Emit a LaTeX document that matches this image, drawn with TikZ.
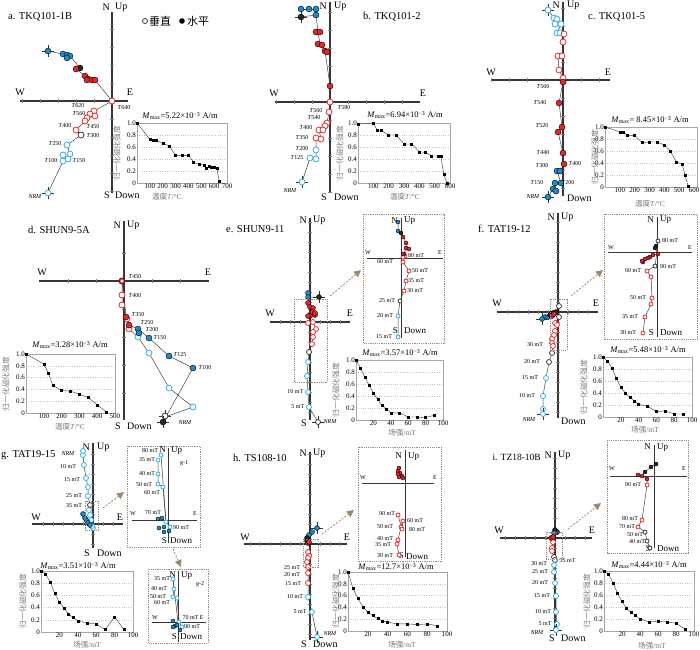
\documentclass[tikz,border=0pt]{standalone}
\usepackage{fontspec}
\setmainfont{Liberation Serif}
\newfontfamily\cjk{Noto Sans CJK SC}
\usetikzlibrary{arrows.meta,plotmarks}
\definecolor{cred}{HTML}{E62628}
\definecolor{cblue}{HTML}{1E8CC8}
\definecolor{oblue}{HTML}{2FAEE6}
\definecolor{axc}{HTML}{363636}
\definecolor{brn}{HTML}{9B8B6E}
\tikzset{
 axl/.style={draw=axc,line width=1.3pt},
 tkl/.style={draw=gray,line width=0.4pt},
 trkl/.style={draw=black!75,line width=0.5pt},
 fR/.style={fill=cred,draw=black,line width=0.4pt},
 fB/.style={fill=cblue,draw=black,line width=0.4pt},
 fK/.style={fill=black!85,draw=black,line width=0.4pt},
 oR/.style={fill=white,draw=cred,line width=0.75pt},
 oB/.style={fill=white,draw=oblue,line width=0.75pt},
 oK/.style={fill=white,draw=black!80,line width=0.75pt},
 slab/.style={font=\fontsize{6}{6}\selectfont,inner sep=0.5pt},
 albl/.style={font=\fontsize{10}{10}\selectfont,inner sep=0pt},
 ilbl/.style={font=\fontsize{9}{9}\selectfont,inner sep=0pt},
 smax/.style={font=\fontsize{6}{6}\selectfont,inner sep=0pt},
 ttl/.style={font=\fontsize{10.5}{11}\selectfont,inner sep=0pt,anchor=west},
 dbox/.style={draw=brn,line width=0.8pt,dash pattern=on 1.2pt off 1pt},
 darr/.style={draw=brn,line width=0.8pt,dash pattern=on 2pt off 1.5pt,-{Triangle[length=7pt,width=7pt,fill=brn]}},
 cgrid/.style={draw=gray!45,line width=0.3pt,dotted},
 cbox/.style={draw=gray!70,line width=0.6pt},
 ctick/.style={font=\fontsize{7}{7}\selectfont,inner sep=1pt},
 cdat/.style={draw=black!80,line width=0.4pt,mark=square*,mark size=1pt,mark options={fill=black,draw=black}},
 ctit/.style={font=\fontsize{8.5}{9}\selectfont,inner sep=0pt},
 cyl/.style={font=\cjk\fontsize{7.8}{8}\selectfont,rotate=90,text=gray,inner sep=0pt},
 cxl/.style={font=\fontsize{7.5}{8}\selectfont,text=gray!90!black,inner sep=0pt},
}
\newcommand\tks[7]{%
 \ifnum#4>0 \foreach \k in {1,...,#4}{\draw[tkl] (#1-\k*#3,#2-1.8) -- (#1-\k*#3,#2+1.8);}\fi
 \ifnum#5>0 \foreach \k in {1,...,#5}{\draw[tkl] (#1+\k*#3,#2-1.8) -- (#1+\k*#3,#2+1.8);}\fi
 \ifnum#6>0 \foreach \k in {1,...,#6}{\draw[tkl] (#1-1.8,#2-\k*#3) -- (#1+1.8,#2-\k*#3);}\fi
 \ifnum#7>0 \foreach \k in {1,...,#7}{\draw[tkl] (#1-1.8,#2+\k*#3) -- (#1+1.8,#2+\k*#3);}\fi}
\newcommand\pts[3]{\foreach \p in {#3}{\path[#1] \p circle (#2pt);}}
\newcommand\pline[2]{\draw[trkl] #1 \foreach \p in {#2}{ -- \p};}
\newcommand\nrm[4]{\draw[black!80,line width=0.5pt] (#1-6,#2) -- (#1+6,#2) (#1,#2-6) -- (#1,#2+6); \path[#3] (#1,#2) circle (#4pt);}
\newcommand\lb[3]{\node[slab] at (#1,#2) {#3};}
\newcommand\Tl[3]{\node[slab] at (#1,#2) {\textit{T}#3};}
\newcommand\chart[7]{%
 \pgfmathsetmacro\ux{(#3-#1)/#5}%
 \pgfmathsetmacro\uy{#4-#2}%
 \begin{scope}[shift={(#1,#4)},x=\ux pt,y=\uy pt]
  \foreach \v in {0.2,0.4,0.6,0.8} \draw[cgrid] (0,\v) -- (#5,\v);
  \draw[cbox] (0,0) rectangle (#5,1);
  \foreach \v/\t in {0/0,0.2/0.2,0.4/0.4,0.6/0.6,0.8/0.8,1/1.0} \node[ctick,anchor=east] at (0,\v) {\t};
  \foreach \v in {#6} \node[ctick,anchor=north] at (\v,0) {\v};
  \draw[cdat] plot coordinates {#7};
 \end{scope}}
\newcommand\mmax[2]{\textit{M}\textsubscript{max}=#1×10\textsuperscript{−3} A/m}
\begin{document}
\begin{tikzpicture}[x=1pt,y=-1pt]
\useasboundingbox (0,0) rectangle (700,649);
% ================= a =================
\draw[axl] (20,101) -- (128,101); \draw[axl] (112,12) -- (112,193);
\tks{112}{101}{18}{5}{0}{4}{5}
\node[albl,anchor=east] at (110,7) {N}; \node[albl,anchor=west] at (115,7) {Up};
\node[albl,anchor=east] at (110,195) {S}; \node[albl,anchor=west] at (115,195) {Down};
\node[albl] at (20,92) {W}; \node[albl] at (130,92) {E};
\node[ttl] at (8,17) {a. TKQ101-1B};
\path[oK] (145,21) circle (2.5pt); \node[font=\cjk\fontsize{11}{11}\selectfont,inner sep=0pt,anchor=west] at (149,21) {垂直};
\path[fill=black] (182,21) circle (2.8pt); \node[font=\cjk\fontsize{11}{11}\selectfont,inner sep=0pt,anchor=west] at (187,21) {水平};
\pline{(48,51)}{(63,54),(67,55),(70,56),(80,68),(76,69),(85,76),(88,79),(92,80),(95,80),(112,101)}
\pline{(112,101)}{(94,111),(90,114),(95,116),(87,118),(85,121),(76,130),(81,135),(67,145),(70,154),(68,159),(63,161),(48,193)}
\pts{oR}{3}{(94,111),(90,114),(95,116),(87,118),(85,121),(76,130),(112,101)}
\pts{oK}{3}{(81,135)}
\pts{oB}{3}{(67,145),(63,155),(70,154),(68,159),(63,161)}
\nrm{48}{193}{oB}{3}
\pts{fB}{3}{(63,54),(67,55),(70,56),(67,58)} \nrm{48}{51}{fB}{3}
\pts{fK}{3}{(80,68)}
\pts{fR}{3}{(76,69),(85,76),(88,79),(92,80),(95,80),(87,80)}
\Tl{124}{108}{640}\Tl{78}{106}{620}\Tl{79}{114}{560}\Tl{93}{127}{450}\Tl{65}{126}{400}\Tl{93}{136}{300}\Tl{55}{144}{250}\Tl{79}{161}{150}\Tl{51}{161}{100}
\node[slab] at (35,197) {\textit{NRM}};
\chart{137}{123}{227}{183}{700}{100,200,...,700}{(0,1) (100,0.73) (125,0.71) (150,0.71) (200,0.66) (250,0.62) (300,0.46) (350,0.46) (400,0.46) (440,0.35) (480,0.31) (520,0.30) (540,0.25) (560,0.28) (580,0.27) (600,0.26) (620,0.25) (640,0.03)}
\node[ctit] at (180,116) {\mmax{5.22}{}};
\node[cyl] at (117,153) {归一化磁化强度};
\node[cxl] at (167,197) {{\cjk 温度}\textit{T}/°C};
% ================= b =================
\draw[axl] (275,102) -- (420,102); \draw[axl] (330,2) -- (330,193);
\tks{330}{102}{18}{3}{4}{5}{5}
\node[albl,anchor=east] at (327,6) {N}; \node[albl,anchor=west] at (334,6) {Up};
\node[albl,anchor=east] at (327,197) {S}; \node[albl,anchor=west] at (334,197) {Down};
\node[albl] at (274,93) {W}; \node[albl] at (423,93) {E};
\node[ttl] at (363,17) {b. TKQ101-2};
\pline{(301,9)}{(316,9),(316,15)}
\pline{(301,17)}{(316,15),(318,32),(320,44),(325,51),(330,86),(330,102)}
\pline{(330,102)}{(329,112),(327,123),(323,130),(319,130),(321,139),(316,138),(316,150),(316,159),(310,158),(302,182)}
\pts{oR}{3}{(330,102),(329,112),(327,123),(325,126),(319,130),(323,130),(316,138),(321,139)}
\pts{oB}{3}{(316,150),(310,158),(316,159)}
\nrm{302}{182}{oB}{3}
\pts{fB}{3}{(301,9),(309,9),(316,9),(316,15)}
\nrm{301}{17}{fK}{3}
\pts{fR}{3}{(316,32),(320,32),(318,44),(322,45),(325,51),(327,52),(330,86)}
\Tl{344}{108}{580}\Tl{316}{111}{560}\Tl{314}{118}{540}\Tl{306}{128}{400}\Tl{302}{138}{350}\Tl{302}{149}{200}\Tl{297}{158}{125}
\node[slab] at (290,191) {\textit{NRM}};
\chart{358}{123}{450}{183}{600}{100,200,...,600}{(0,0.98) (100,1.0) (125,0.88) (150,0.88) (200,0.8) (250,0.8) (300,0.65) (350,0.65) (400,0.52) (440,0.51) (480,0.45) (520,0.45) (540,0.45) (560,0.14) (580,0.0)}
\node[ctit] at (405,115) {\mmax{6.94}{}};
\node[cyl] at (340,153) {归一化磁化强度};
\node[cxl] at (405,197) {{\cjk 温度}\textit{T}/°C};
% ================= c =================
\draw[axl] (491,80) -- (610,80); \draw[axl] (563,2) -- (563,196);
\tks{563}{80}{18}{4}{2}{4}{6}
\node[albl,anchor=east] at (560,5) {N}; \node[albl,anchor=west] at (567,5) {Up};
\node[albl,anchor=west] at (567,198) {Down};
\node[albl] at (491,72) {W}; \node[albl] at (608,72) {E};
\node[ttl] at (588,17) {c. TKQ101-5};
\pline{(548,10)}{(554,18),(557,19),(555,24),(561,24),(557,33),(560,33),(564,34),(563,42),(562,56),(558,56),(559,70),(563,78),(563,82)}
\pline{(563,82)}{(559,103),(562,127),(558,132),(563,153),(564,164),(560,171),(557,171),(561,183),(555,183),(556,191),(553,189),(548,197)}
\pts{oB}{3}{(554,18),(557,19),(555,24),(561,24),(557,33),(560,33)}
\nrm{548}{10}{oB}{3}
\pts{oR}{3}{(564,34),(563,42),(558,56),(562,56),(559,70),(563,78)}
\pts{fR}{3}{(563,82),(559,103),(562,127),(558,132),(563,153),(564,164)}
\pts{fB}{3}{(557,171),(560,171),(555,183),(561,183),(553,189),(556,191)}
\nrm{548}{197}{fB}{3}
\Tl{543}{87}{560}\Tl{540}{103}{540}\Tl{542}{126}{520}\Tl{543}{153}{440}\Tl{575}{164}{400}\Tl{542}{166}{300}\Tl{537}{183}{150}\Tl{568}{183}{200}
\node[slab] at (533,197) {\textit{NRM}};
\chart{605}{127}{697}{187}{620}{100,200,...,600}{(0,1.0) (100,0.92) (125,0.92) (150,0.86) (200,0.86) (250,0.74) (300,0.75) (350,0.75) (400,0.7) (440,0.6) (480,0.42) (520,0.38) (540,0.19) (560,0.02)}
\node[ctit] at (650,120) {\textit{M}\textsubscript{max}= 8.45×10\textsuperscript{−3} A/m};
\node[cyl] at (595,157) {归一化磁化强度};
\node[cxl] at (650,204) {{\cjk 温度}\textit{T}/°C};
% ================= d =================
\draw[axl] (39,281) -- (209,281); \draw[axl] (124,221) -- (124,420);
\tks{124}{281}{28}{2}{2}{1}{4}
\node[albl,anchor=east] at (121,225) {N}; \node[albl,anchor=west] at (127,225) {Up};
\node[albl,anchor=east] at (121,426) {S}; \node[albl,anchor=west] at (127,426) {Down};
\node[albl] at (42,272) {W}; \node[albl] at (208,272) {E};
\node[ttl] at (28,230) {d. SHUN9-5A};
\pline{(122,281)}{(126,317),(129,325),(138,329),(149,338),(169,356),(193,368),(163,422)}
\pline{(122,281)}{(122,295),(122,305),(127,319),(129,329),(138,337),(149,353),(169,388),(193,407),(165,417)}
\pts{oR}{3}{(122,281),(122,295),(122,305),(127,319),(129,329)}
\pts{oB}{3}{(138,337),(149,353),(169,388),(193,407)}
\nrm{165}{416}{oK}{3}
\pts{fR}{3}{(122,281),(126,317),(129,325)}
\path[oR] (122,281) circle (2pt);
\pts{fB}{3}{(138,329),(139,333),(149,338),(169,356),(193,368)}
\nrm{163}{422}{fK}{3}
\Tl{135}{277}{450}\Tl{135}{296}{400}\Tl{138}{315}{350}\Tl{147}{323}{250}\Tl{152}{330}{200}\Tl{160}{338}{150}\Tl{180}{355}{125}\Tl{205}{368}{100}
\node[slab] at (185,423) {\textit{NRM}};
\chart{26}{354}{115}{413}{500}{100,200,...,500}{(0,1.0) (100,0.83) (125,0.68) (150,0.47) (200,0.38) (250,0.37) (300,0.32) (350,0.26) (400,0.14) (450,0.02)}
\node[ctit] at (70,345) {\mmax{3.28}{}};
\node[cyl] at (6,384) {归一化磁化强度};
\node[cxl] at (70,427) {{\cjk 温度}\textit{T}/°C};
% ================= e =================
\draw[axl] (270,322) -- (350,322); \draw[axl] (310,218) -- (310,420);
\tks{310}{322}{10}{3}{3}{10}{9}
\node[albl,anchor=east] at (307,220) {N}; \node[albl,anchor=west] at (313,220) {Up};
\node[albl,anchor=east] at (307,423) {S};
\node[albl] at (270,313) {W}; \node[albl] at (350,313) {E};
\node[ttl] at (226,229) {e. SHUN9-11};
\pline{(319,297)}{(308,297),(308,303),(312,308),(313,312),(315,315),(310,316)}
\pline{(310,322)}{(313,322),(316,329),(313,332),(313,337),(312,344),(309,352),(308,362),(307,376),(308,392),(309,407),(318,422)}
\pts{oR}{2.5}{(308,323),(313,322),(316,329),(313,332),(313,337),(312,344)}
\pts{oK}{2.5}{(309,352)}
\pts{oB}{2.5}{(308,362),(307,376),(308,392),(309,407)}
\nrm{318}{422}{oK}{2.5}
\pts{fB}{2.5}{(308,293),(308,297)}
\nrm{319}{297}{fK}{2.5}
\pts{fR}{2.5}{(308,303),(310,307),(313,308),(312,312),(315,315),(310,316),(308,316),(315,313)}
\node[slab,anchor=east] at (304,392) {10 mT}; \node[slab,anchor=east] at (305,407) {5 mT};
\node[slab,anchor=west] at (323,422) {\textit{NRM}};
\draw[dbox] (294,299) rectangle (327,382);
\coordinate (ea1) at (330,296); \coordinate (ea2) at (361,270);
\draw[darr] (ea1) -- (ea2);
\draw[dbox] (363,214) rectangle (444,343);
\draw[axl,line width=0.9pt] (367,258) -- (443,258); \draw[axl,line width=0.9pt] (401,218) -- (401,338);
\node[ilbl,anchor=east] at (398,221) {N}; \node[ilbl,anchor=west] at (404,221) {Up};
\node[ilbl,anchor=east] at (398,331) {S}; \node[ilbl,anchor=west] at (404,331) {Down};
\node[smax] at (368,253) {W}; \node[smax] at (440,253) {E};
\pline{(398,222)}{(398,231),(401,233),(403,237),(406,243),(406,248),(404,254),(401,258)}
\pline{(405,256)}{(403,262),(409,271),(406,281),(404,291),(400,301),(398,316),(398,337)}
\pts{oR}{2}{(405,256),(403,257),(403,262),(409,271),(406,281),(404,291)}
\pts{oK}{2}{(400,301)}
\pts{oB}{2}{(398,316),(398,337)}
\pts{fB}{2}{(398,222),(398,231)}
\pts{fK}{2}{(401,233)}
\pts{fR}{2}{(403,237),(406,243),(406,248),(409,249),(404,254),(403,254)}
\lb{416}{256}{80 mT}\lb{385}{262}{60 mT}\lb{420}{271}{50 mT}\lb{416}{281}{35 mT}\lb{415}{291}{30 mT}\lb{387}{301}{25 mT}\lb{385}{316}{20 mT}\lb{384}{337}{15 mT}
\chart{356}{360}{443}{420}{100}{20,40,...,100}{(0,1.0) (5,0.87) (10,0.72) (15,0.58) (20,0.45) (25,0.34) (30,0.24) (35,0.18) (40,0.12) (50,0.12) (60,0.05) (70,0.05) (80,0.04) (90,0.08)}
\node[ctit] at (400,353) {\mmax{3.57}{}};
\node[cyl] at (336,390) {归一化磁化强度};
\node[cxl] at (402,433) {{\cjk 场强}/mT};
% ================= f =================
\draw[axl] (497,312) -- (598,312); \draw[axl] (558,213) -- (558,418);
\tks{558}{312}{10}{5}{3}{9}{10}
\node[albl,anchor=east] at (555,217) {N}; \node[albl,anchor=west] at (561,217) {Up};
\node[albl,anchor=west] at (561,421) {Down};
\node[albl] at (497,303) {W}; \node[albl] at (596,303) {E};
\node[ttl] at (478,229) {f. TAT19-12};
\pline{(542,319)}{(548,317),(552,316),(556,312),(558,312)}
\pline{(559,306)}{(559,317),(555,323),(557,325),(555,331),(554,335),(552,339),(552,343),(553,346),(552,353),(549,362),(546,378),(543,396),(543,409),(543,414)}
\pts{oK}{2.5}{(559,306),(559,317),(552,353),(549,362)}
\pts{oR}{2.5}{(555,323),(557,325),(555,331),(554,335),(552,339),(552,343),(553,346)}
\pts{oB}{2.5}{(546,378),(543,396),(543,409)}
\nrm{543}{414}{oB}{2.5}
\pts{fB}{2.5}{(545,317),(548,317)}
\nrm{542}{319}{fB}{2.5}
\pts{fK}{2.5}{(550,315),(553,313),(556,312)}
\pts{fR}{2.5}{(552,316),(554,314)}
\lb{535}{345}{30 mT}\lb{532}{362}{20 mT}\lb{530}{378}{15 mT}\lb{527}{396}{10 mT}
\node[slab] at (529,420) {\textit{NRM}};
\draw[dbox] (550,299) rectangle (567,350);
\coordinate (fa1) at (571,296); \coordinate (fa2) at (603,270);
\draw[darr] (fa1) -- (fa2);
\draw[dbox] (604,214) rectangle (697,339);
\draw[axl,line width=0.9pt] (608,252) -- (692,252); \draw[axl,line width=0.9pt] (657,217) -- (657,337);
\node[ilbl,anchor=east] at (654,220) {N}; \node[ilbl,anchor=west] at (660,220) {Up};
\node[ilbl,anchor=east] at (654,333) {S}; \node[ilbl,anchor=west] at (660,333) {Down};
\node[smax] at (611,248) {W}; \node[smax] at (690,248) {E};
\pline{(656,246)}{(655,248),(658,254),(653,255),(648,258),(643,262)}
\pline{(658,241)}{(657,252),(655,266),(647,271),(651,277),(652,298),(651,304),(645,317),(643,333)}
\pts{oK}{2}{(658,241),(655,266)}
\pts{oR}{2}{(647,271),(651,277),(652,298),(651,304),(645,317),(643,333)}
\pts{fK}{2}{(656,246),(655,248)}
\pts{fR}{2}{(658,254),(653,255),(650,257),(648,258),(645,259),(643,262),(642,261)}
\lb{670}{241}{80 mT}\lb{668}{267}{90 mT}\lb{633}{271}{60 mT}\lb{638}{298}{50 mT}\lb{630}{317}{35 mT}\lb{628}{333}{30 mT}
\chart{603}{357}{692}{417}{100}{20,40,...,100}{(0,1.0) (5,0.93) (10,0.82) (15,0.64) (20,0.5) (25,0.4) (30,0.33) (35,0.27) (40,0.21) (50,0.18) (60,0.09) (70,0.1) (80,0.05) (90,0.05)}
\node[ctit] at (648,350) {\mmax{5.48}{}};
\node[cyl] at (584,387) {归一化磁化强度};
\node[cxl] at (645,430) {{\cjk 场强}/mT};
% ================= g =================
\draw[axl] (32,524) -- (123,524); \draw[axl] (93,443) -- (93,548);
\tks{93}{524}{10}{5}{2}{7}{2}
\node[albl,anchor=east] at (90,447) {N}; \node[albl,anchor=west] at (97,447) {Up};
\node[albl,anchor=east] at (90,553) {S}; \node[albl,anchor=west] at (97,553) {Down};
\node[albl] at (36,517) {W}; \node[albl] at (120,517) {E};
\node[ttl] at (1,455) {g. TAT19-15};
\pline{(83,451)}{(83,455),(84,465),(86,478),(88,487),(88,496),(90,505),(89,510),(90,515),(91,520),(93,528)}
\pline{(83,514)}{(85,518),(87,521),(88,523),(90,525)}
\pts{oB}{2.5}{(83,455),(84,465),(86,478),(88,487),(88,496),(89,510),(90,515),(91,520),(93,528),(92,526)}
\pts{oB}{2.5}{(83,451)}
\pts{oK}{2.5}{(90,505)}
\pts{fB}{2.5}{(83,514),(85,518),(87,521),(88,523),(90,525)}
\node[slab] at (68,454) {\textit{NRM}};
\lb{68}{467}{10 mT}\lb{72}{480}{15 mT}\lb{74}{496}{25 mT}\lb{74}{506}{35 mT}
\draw[dbox] (85,501) rectangle (98,530);
\coordinate (ga1) at (103,508); \coordinate (ga2) at (124,492);
\draw[darr] (ga1) -- (ga2);
\draw[dbox] (127,446) rectangle (200,547);
\draw[axl,line width=0.9pt] (132,520) -- (197,520); \draw[axl,line width=0.9pt] (168,448) -- (168,543);
\node[ilbl,anchor=east] at (166,450) {N}; \node[ilbl,anchor=west] at (171,450) {Up};
\node[ilbl,anchor=east] at (167,541) {S}; \node[ilbl,anchor=west] at (170,541) {Down};
\node[smax] at (133,514) {W}; \node[smax] at (195,514) {E}; \node[smax] at (184,463) {g-1};
\pline{(161,455)}{(166,522)}
\pline{(158,460)}{(158,474),(158,484),(163,487),(166,522),(170,527)}
\pline{(158,519)}{(162,518),(166,522)}
\pts{oB}{2}{(161,455),(158,460),(158,474),(158,484),(163,487),(166,522),(170,527)}
\pts{fB}{2}{(158,519),(162,518),(159,528),(164,527),(164,532),(169,531)}
\lb{150}{451}{80 mT}\lb{147}{460}{35 mT}\lb{147}{474}{40 mT}\lb{144}{485}{50 mT}\lb{152}{493}{60 mT}\lb{153}{513}{70 mT}\lb{181}{528}{90 mT}
\coordinate (gb1) at (173,549); \coordinate (gb2) at (181,567);
\draw[darr] (gb1) -- (gb2);
\draw[dbox] (148,569) rectangle (208,643);
\draw[axl,line width=0.9pt] (152,622) -- (206,622); \draw[axl,line width=0.9pt] (178,571) -- (178,642);
\node[ilbl,anchor=east] at (176,575) {N}; \node[ilbl,anchor=west] at (181,575) {Up};
\node[ilbl,anchor=east] at (177,637) {S}; \node[ilbl,anchor=west] at (180,637) {Down};
\node[smax] at (155,618) {W}; \node[smax] at (193,618) {70 mT E}; \node[smax] at (200,584) {g-2};
\pline{(173,579)}{(174,589),(173,597),(177,598),(179,622),(182,627)}
\pline{(173,579)}{(178,622)}
\pts{oB}{2}{(173,579),(174,589),(173,597),(177,598),(179,622),(182,627)}
\pts{fB}{2}{(173,621),(175,626),(177,625),(180,630),(173,627)}
\lb{162}{579}{35 mT}\lb{159}{589}{40 mT}\lb{158}{597}{50 mT}\lb{162}{603}{60 mT}\lb{192}{627}{90 mT}
\chart{41}{571}{133}{632}{100}{20,40,...,100}{(0,1.0) (5,0.95) (10,0.82) (15,0.63) (20,0.49) (25,0.39) (30,0.29) (35,0.24) (40,0.18) (50,0.15) (60,0.13) (70,0.04) (80,0.25) (90,0.04)}
\node[ctit] at (78,566) {\mmax{3.51}{}};
\node[cyl] at (23,601) {归一化磁化强度};
\node[cxl] at (87,645) {{\cjk 场强}/mT};
% ================= h =================
\draw[axl] (244,544) -- (347,544); \draw[axl] (310,452) -- (310,640);
\tks{310}{544}{10}{6}{3}{9}{9}
\node[albl,anchor=east] at (307,453) {N}; \node[albl,anchor=west] at (313,453) {Up};
\node[albl,anchor=east] at (307,644) {S}; \node[albl,anchor=west] at (313,644) {Down};
\node[albl] at (245,537) {W}; \node[albl] at (347,537) {E};
\node[ttl] at (233,458) {h. TS108-10};
\pline{(317,528)}{(312,532),(309,535),(307,538),(308,543)}
\pline{(308,552)}{(309,556),(308,558),(307,562),(308,567),(308,573),(308,583),(308,597),(312,612),(317,637)}
\pts{oR}{2.5}{(308,552),(309,556),(308,558),(307,562),(308,567),(308,573),(308,583)}
\pts{oB}{2.5}{(308,597),(312,612)}
\nrm{317}{637}{oB}{2.5}
\nrm{317}{528}{fB}{2.5}
\pts{fB}{2.5}{(312,532),(309,535)}
\pts{fK}{2.5}{(307,538),(307,541)}
\pts{fR}{2.5}{(308,543),(309,542)}
\lb{292}{568}{25 mT}\lb{292}{575}{20 mT}\lb{293}{584}{15 mT}\lb{295}{597}{10 mT}\lb{300}{612}{5 mT}
\node[slab] at (330,634) {\textit{NRM}};
\draw[dbox] (303,539) rectangle (318,567);
\coordinate (ha1) at (322,534); \coordinate (ha2) at (354,510);
\draw[darr] (ha1) -- (ha2);
\draw[dbox] (358,447) rectangle (441,561);
\draw[axl,line width=0.9pt] (362,483) -- (434,483); \draw[axl,line width=0.9pt] (405,450) -- (405,557);
\node[ilbl,anchor=east] at (402,456) {N}; \node[ilbl,anchor=west] at (408,456) {Up};
\node[ilbl,anchor=east] at (404,556) {S}; \node[ilbl,anchor=west] at (406,557) {Down};
\node[smax] at (363,478) {W}; \node[smax] at (435,478) {E};
\pline{(399,555)}{(397,544),(398,540),(401,527),(403,521),(402,529),(398,515)}
\pts{oR}{2}{(398,515),(403,521),(401,527),(402,529),(398,540),(397,544),(399,555)}
\pts{fR}{2}{(399,468),(398,471),(400,473),(402,476),(399,477),(403,478),(398,474)}
\lb{387}{514}{90 mT}\lb{415}{521}{60 mT}\lb{385}{527}{50 mT}\lb{417}{530}{80 mT}\lb{385}{539}{40 mT}\lb{383}{545}{35 mT}\lb{385}{556}{30 mT}
\chart{348}{572}{447}{631}{100}{20,40,...,100}{(0,1.0) (5,0.72) (10,0.55) (15,0.41) (20,0.32) (25,0.26) (30,0.21) (35,0.17) (40,0.15) (50,0.12) (60,0.12) (70,0.11) (80,0.12) (90,0.09)}
\node[ctit] at (396,567) {\textit{M}\textsubscript{max}=12.7×10\textsuperscript{−3} A/m};
\node[cyl] at (336,601) {归一化磁化强度};
\node[cxl] at (402,645) {{\cjk 场强}/mT};
% ================= i =================
\draw[axl] (500,538) -- (592,538); \draw[axl] (555,452) -- (555,632);
\tks{555}{538}{10}{5}{3}{8}{9}
\node[albl,anchor=east] at (552,455) {N}; \node[albl,anchor=west] at (558,455) {Up};
\node[albl,anchor=east] at (555,638) {S}; \node[albl,anchor=west] at (561,638) {Down};
\node[albl] at (499,530) {W}; \node[albl] at (592,530) {E};
\node[ttl,anchor=east,font=\fontsize{9.5}{10}\selectfont] at (541,457) {i. TZ18-10B};
\pline{(555,530)}{(554,533),(551,538),(553,542),(552,548),(552,551),(554,557),(555,560),(554,565),(554,572),(555,583),(556,596),(556,612),(557,624),(556,629)}
\pts{oR}{2.5}{(553,542),(552,548),(552,551)}
\pts{oK}{2.5}{(554,557),(555,560)}
\pts{oB}{2.5}{(554,565),(554,572),(555,583),(556,596),(556,612),(557,624)}
\nrm{556}{630}{oB}{2.5}
\pts{fK}{2.5}{(555,530),(557,532)}
\pts{fB}{2.5}{(554,533)}
\pts{fR}{2.5}{(551,538),(553,537)}
\node[slab,anchor=west] at (559,561) {35 mT};
\lb{539}{564}{30 mT}\lb{540}{572}{25 mT}\lb{540}{583}{20 mT}\lb{542}{596}{15 mT}\lb{543}{612}{10 mT}\lb{545}{624}{5 mT}
\node[slab] at (537,633) {\textit{NRM}};
\draw[dbox] (546,532) rectangle (562,559);
\coordinate (ia1) at (568,529); \coordinate (ia2) at (601,503);
\draw[darr] (ia1) -- (ia2);
\draw[dbox] (607,440) rectangle (688,553);
\draw[axl,line width=0.9pt] (610,476) -- (687,476); \draw[axl,line width=0.9pt] (654,445) -- (654,548);
\node[ilbl,anchor=east] at (651,447) {N}; \node[ilbl,anchor=west] at (657,447) {Up};
\node[ilbl,anchor=east] at (651,549) {S}; \node[ilbl,anchor=west] at (657,549) {Down};
\node[smax] at (612,469) {W}; \node[smax] at (684,469) {E};
\pline{(656,464)}{(651,467),(645,472),(642,476),(638,475),(647,479),(647,485),(642,520),(638,527),(645,532),(647,541),(650,548)}
\pts{oR}{2}{(647,485),(642,520),(638,527)}
\pts{oK}{2}{(645,532),(647,541),(650,548)}
\pts{fK}{2}{(656,464),(651,467),(645,472)}
\pts{fR}{2}{(642,476),(638,475),(647,479)}
\lb{633}{485}{90 mT}\lb{630}{519}{80 mT}\lb{627}{527}{70 mT}\lb{635}{535}{50 mT}\lb{637}{542}{40 mT}
\chart{604}{571}{694}{631}{100}{20,40,...,100}{(0,1.0) (5,0.95) (10,0.8) (15,0.63) (20,0.49) (25,0.38) (30,0.31) (35,0.26) (40,0.2) (50,0.15) (60,0.16) (70,0.15) (80,0.13) (90,0.03)}
\node[ctit] at (649,565) {\mmax{4.44}{}};
\node[cyl] at (587,601) {归一化磁化强度};
\node[cxl] at (652,646) {{\cjk 场强}/mT};
\end{tikzpicture}
\end{document}
